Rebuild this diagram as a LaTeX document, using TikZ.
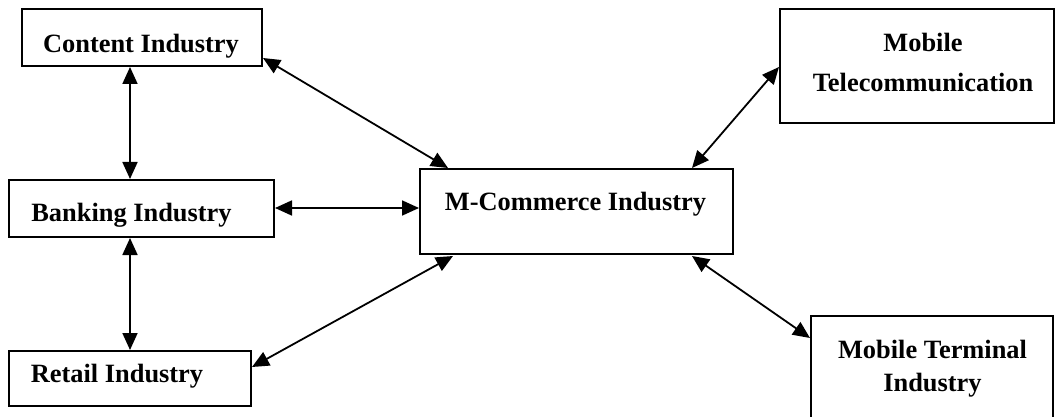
\documentclass[tikz,border=0pt]{standalone}
\usepackage{fontspec}
\setmainfont{Liberation Serif}
\usetikzlibrary{arrows.meta}
\begin{document}
\begin{tikzpicture}[x=1pt,y=-1pt,
  box/.style={draw,line width=2pt,inner sep=0pt},
  lbl/.style={anchor=base,inner sep=0pt,font=\fontsize{26.4}{32}\selectfont\bfseries},
  arr/.style={line width=1.8pt,{Triangle[length=17pt,width=15pt]}-{Triangle[length=17pt,width=15pt]}}]
\useasboundingbox (0,0) rectangle (1055,417);
\fill[white] (0,0) rectangle (1055,417);
% boxes
\node[box,minimum width=240pt,minimum height=57pt] (content) at (142,37.5) {};
\node[box,minimum width=265pt,minimum height=57pt] (banking) at (141.5,208.5) {};
\node[box,minimum width=242pt,minimum height=55pt] (retail) at (130,378.5) {};
\node[box,minimum width=313pt,minimum height=85pt] (mc) at (576.5,211.5) {};
\node[box,minimum width=274pt,minimum height=114pt] (tel) at (916.5,66) {};
\node[box,minimum width=242pt,minimum height=104pt] (term) at (932,368) {};
% labels
\node[lbl] (tcontent) at (141,53) {Content Industry};
\node[lbl] (tbanking) at (131.5,221) {Banking Industry};
\node[lbl] (tretail) at (117,382) {Retail Industry};
\node[lbl] (tmc) at (575.5,210) {M-Commerce Industry};
\node[lbl] (ttel1) at (923,52) {Mobile};
\node[lbl] (ttel2) at (923,92) {Telecommunication};
\node[lbl] (tterm1) at (932.5,358) {Mobile Terminal};
\node[lbl] (tterm2) at (932.5,391) {Industry};
% connector end points
\coordinate (v1) at (130,0);
\coordinate (hb) at (0,208);
\coordinate (c1) at (263,58);
\coordinate (m1) at (448,168);
\coordinate (r1) at (252,367);
\coordinate (m2) at (453,256);
\coordinate (m3) at (692,168);
\coordinate (t1) at (779,67);
\coordinate (m4) at (692,256);
\coordinate (t2) at (810,338);
% connectors
\draw[arr] (content.south -| v1) -- (banking.north -| v1);
\draw[arr] (banking.south -| v1) -- (retail.north -| v1);
\draw[arr] (banking.east |- hb) -- (mc.west |- hb);
\draw[arr] (c1) -- (m1);
\draw[arr] (r1) -- (m2);
\draw[arr] (m3) -- (t1);
\draw[arr] (m4) -- (t2);
\end{tikzpicture}
\end{document}
